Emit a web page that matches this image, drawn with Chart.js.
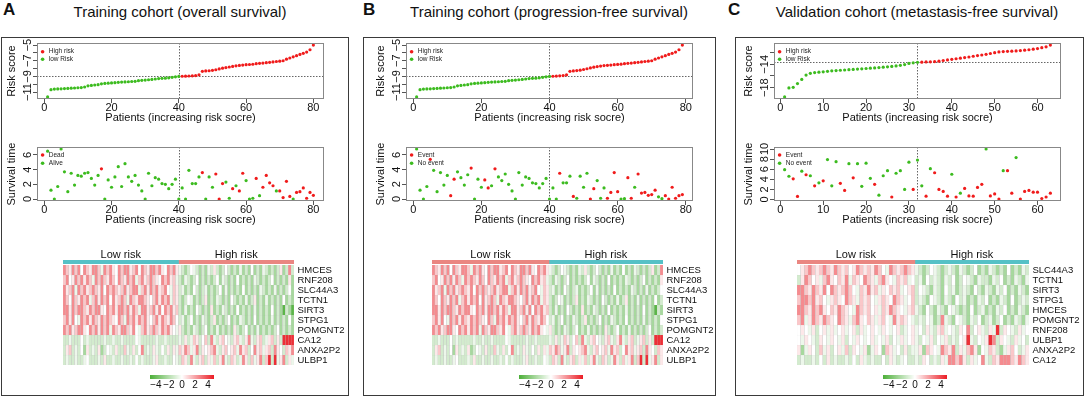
<!DOCTYPE html>
<html>
<head>
<meta charset="utf-8">
<script src="https://cdn.jsdelivr.net/npm/chart.js@4.4.1/dist/chart.umd.min.js"></script>
<style>
  body { margin: 0; width: 1085px; height: 397px; position: relative; overflow: hidden; background: #fff;
         font-family: "Liberation Sans", Arial, sans-serif; color: #111; }
  .frame { position: absolute; top: 37px; height: 359px; border: 1.5px solid #3a3a3a; box-sizing: border-box; }
  .tag { position: absolute; top: 0; font-size: 17px; font-weight: bold; }
  .title { position: absolute; top: 3px; width: 400px; text-align: center; font-size: 15px; }
  canvas { position: absolute; }
</style>
</head>
<body>
<div class="frame" style="left:1px;width:348px"></div>
<div class="frame" style="left:363px;width:353px"></div>
<div class="frame" style="left:735px;width:349px"></div>
<div class="tag" style="left:3px">A</div>
<div class="tag" style="left:363px">B</div>
<div class="tag" style="left:728px">C</div>
<div class="title" style="left:-20px">Training cohort (overall survival)</div>
<div class="title" style="left:349px">Training cohort (progression-free survival)</div>
<div class="title" style="left:717px">Validation cohort (metastasis-free survival)</div>
<script>
// risk score per patient, sorted (low-risk group first)
const riskA = [-11.62,-10.7,-10.62,-10.6,-10.58,-10.55,-10.53,-10.5,-10.48,-10.45,
  -10.42,-10.35,-10.2,-10.15,-10.1,-10.05,-9.95,-9.9,-9.87,-9.83,
  -9.8,-9.75,-9.72,-9.7,-9.68,-9.65,-9.63,-9.55,-9.5,-9.47,
  -9.43,-9.38,-9.33,-9.28,-9.25,-9.22,-9.18,-9.12,-9.05,-9.0,
  -8.98,-8.97,-8.95,-8.93,-8.9,-8.8,-8.35,-8.3,-8.28,-8.22,
  -8.15,-8.05,-7.95,-7.87,-7.8,-7.72,-7.65,-7.6,-7.55,-7.5,
  -7.48,-7.45,-7.38,-7.33,-7.3,-7.25,-7.2,-7.15,-7.1,-7.05,
  -7.0,-6.8,-6.65,-6.5,-6.35,-6.2,-6.05,-5.9,-5.6,-5.0];
const riskB = [-11.62,-10.7,-10.62,-10.6,-10.58,-10.55,-10.53,-10.5,-10.48,-10.45,
  -10.42,-10.35,-10.2,-10.15,-10.1,-10.05,-9.95,-9.9,-9.87,-9.83,
  -9.8,-9.75,-9.72,-9.7,-9.68,-9.65,-9.63,-9.55,-9.5,-9.47,
  -9.43,-9.38,-9.33,-9.28,-9.25,-9.22,-9.18,-9.12,-9.05,-9.0,
  -8.98,-8.96,-8.93,-8.9,-8.8,-8.35,-8.3,-8.25,-8.2,-8.12,
  -8.02,-7.92,-7.82,-7.75,-7.68,-7.62,-7.58,-7.55,-7.5,-7.47,
  -7.44,-7.38,-7.33,-7.3,-7.25,-7.2,-7.15,-7.1,-7.05,-7.0,
  -6.8,-6.65,-6.5,-6.35,-6.2,-6.05,-5.9,-5.6,-5.0];
const riskC = [-19.6,-18.05,-17.95,-17.3,-16.6,-15.85,-15.55,-15.42,-15.35,-15.3,
  -15.2,-15.12,-15.08,-15.02,-14.98,-14.92,-14.88,-14.82,-14.77,-14.72,
  -14.66,-14.62,-14.56,-14.5,-14.44,-14.36,-14.28,-14.18,-14.05,-13.85,
  -13.75,-13.66,-13.63,-13.6,-13.57,-13.53,-13.46,-13.35,-13.25,-13.15,
  -13.05,-12.95,-12.85,-12.75,-12.62,-12.5,-12.4,-12.28,-12.15,-12.0,
  -11.88,-11.82,-11.78,-11.74,-11.7,-11.65,-11.58,-11.5,-11.4,-11.3,
  -11.15,-11.0,-10.7];
const nLowA = 40, nLowB = 40, nLowC = 32;

// survival time and status (1 = dead / event)
const survA = [6.5,1.2,0,1.7,6.8,3.7,1.0,3.5,1.9,3.2, 3.1,3.5,3.6,2.8,1.9,3.2,4.1,0,2.6,1.6,
  3.0,4.4,1.7,4.8,3.0,2.4,3.2,1.9,1.1,0, 3.5,1.8,2.9,2.7,2.1,2.0,1.4,2.0,2.7,0,
  1.5,0,3.9,2.1,2.1,3.0,3.6,0,3.0,1.6, 3.4,0,2.1,2.3,0.1,1.4,1.8,1.1,3.5,2.5,
  0,0.1,2.8,0.45,1.6,3.2,2.2,1.8,1.1,1.1, 0.2,2.4,0.35,0,0.9,1.0,1.5,0.1,0.9,0.5];
const deadA = [0,0,0,0,0,0,0,0,0,0, 0,0,0,0,0,0,1,0,0,0, 0,0,0,0,0,0,0,0,0,0, 0,0,0,0,0,0,0,0,0,0,
  0,0,0,0,0,0,1,0,0,0, 1,1,1,0,0,1,0,1,1,0, 0,0,1,0,1,1,1,1,0,1, 1,1,1,0,1,1,1,1,1,1];
const survB = [6.8,1.2,0,1.7,5.4,3.9,1.0,3.6,1.9,3.2, 0.45,2.7,3.7,2.9,1.9,3.3,4.2,0,2.7,1.6,
  2.6,1.5,1.8,4.1,3.0,2.5,3.4,2.0,1.1,0, 3.6,1.9,3.0,2.8,2.2,2.1,1.5,2.1,2.8,0,
  1.5,0,3.5,2.2,2.2,3.1,0.35,0.1,3.1,1.6, 3.5,0,1.4,2.5,0.1,1.5,0.1,0.9,3.6,1.0,
  0,0.05,2.9,0.1,1.6,3.4,0.8,0.9,0.5,0.6, 1.2,0.3,0.05,0.45,0,1.6,0.1,0.45,0.6];
const eventB = [0,0,0,0,1,0,0,0,0,0, 1,1,0,0,0,0,1,0,0,0, 1,1,0,1,0,0,0,0,0,0, 0,0,0,0,0,0,0,0,0,0,
  0,0,1,0,0,0,1,0,0,0, 0,1,1,0,0,0,1,1,1,1, 0,0,1,1,0,1,1,1,1,1, 1,0,0,1,1,1,1,1,1];
const survC = [5.9,4.6,4.1,0.6,5.6,4.9,4.7,2.7,3.3,3.7, 7.9,2.7,7.5,3.2,1.8,7.1,4.3,7.1,2.6,7.2,
  4.2,3.0,0.85,4.7,5.7,0.5,5.2,5.7,2.0,7.4, 2.0,7.8,2.7,0.65,6.1,5.3,2.0,1.6,0.65,5.0,
  0.5,1.25,2.2,0.7,0.65,2.4,3.0,10.0,0.7,1.1, 0.1,5.7,5.7,1.25,8.3,0.1,1.6,1.8,1.45,1.45,
  0.2,0.5,1.25];
const eventC = [0,0,1,1,0,1,0,1,0,1, 0,0,0,1,1,0,1,0,0,0, 0,1,0,0,0,1,0,0,0,0, 1,0,0,1,0,1,1,1,1,0,
  1,0,1,1,1,1,1,0,1,1, 1,0,1,1,0,1,1,1,1,1, 1,1,1];

// heatmap: one letter per patient, Y G g h o s r R X  ->  -4.5 ... 4.5
const levels = { Y: -4.5, G: -2.4, g: -1.2, h: -0.5, o: 0, s: 0.5, r: 1.2, R: 2.5, X: 4.5 };
const genesA = ['HMCES','RNF208','SLC44A3','TCTN1','SIRT3','STPG1','POMGNT2','CA12','ANXA2P2','ULBP1'];
const heatA = [
  'RrsRrRoRrsRRrhRrRsoRrRRsrRoRrsRRrRsoRrRs' + 'hgGgohgGgGhgsgGgogGgGhGgGoGgGhgGgGgsGgRg',
  'rRosRrRsRrhRrRrsRroRrsRrRhrRsrRrsoRrRsrh' + 'gGhgGgoGgGgGgoGhgGgGoGgGgGhgGgGgoGgGgGsG',
  'RsrRhRrRsrRrsRoRrRrsrRsrRRhrRsRrRsrRohrs' + 'ghGgGogGghGgGgoGhGgGgGoGgGgGhgGgGhGgGgoG',
  'RroRrsRrRhrRsRrRoRsrRrhRrsRRrsorRsRrRhrs' + 'gGgohGgGgsGgGhgGgGogGgGhGgsGgGhGgGgGoGgG',
  'RRsRrRRrsRrRRsoRrRsRRrRsRrhRRsrRsRoRrRsr' + 'gGhGgGogGgGsGgGhgGgGoGgGgGhGgGgGoGgGYgGY',
  'rRsRohRrRsRrsRrRrsoRrhRrRsRrRsorRsRrsRro' + 'ghGgoGgGhgGgsGgGgoGgGhgGgGoGgGgGhGgGgGoG',
  'RrRsrRRsoRrRsRrRhRrsRRrsRohrRsrRrsRrRsoh' + 'sgGgGhgGgoGgGhGgGgGsgGgoGgGhGgGgGgoGgGgG',
  'gghgggoghggggghgghgghggggohggggghgghgggg' + 'hgsghrsgorgRhgsrohgsrhgsRhgsrghsrgsgXXXX',
  'gsrghgoGsghgsGgohgsggrhgsgoRghgshgogsgsh' + 'rsRrhsRgsosrRhgsrosrhRsrgoRsrhsrgRsogrsR',
  'ghgghgghoggghgsgghgghgghgoghggghsgghggoh' + 'grsgRhgsrgshrgsRhgrsghRsgrhsRgrXgXhsRgsh'
];
const heatB = heatA.map(row => row.slice(0, 79)); // same patients as A, one fewer
const genesC = ['SLC44A3','TCTN1','SIRT3','STPG1','HMCES','POMGNT2','RNF208','ULBP1','ANXA2P2','CA12'];
const heatC = [
  'osrRrsrRrsRrsrosRrsrsRrohRrsrRrs' + 'hgGgohgGghgGhgGgoGgGhgGgGoGgGhg',
  'gsRroshrRsorsRhrsoRrshrRsohrsrho' + 'ghGoghgGhgoGgohgGhggGhgoGgGhgGh',
  'RRrsRrsRoRrsrRrohrsRsrhsorsrhosr' + 'gohgGhgGoghGghgGogGhgGhgoGgGhgG',
  'rRRrRsrohsrsoRrshrsrohsrsoRrshor' + 'ghgGohgGhgGoghGgGhgoGgGhgGoGghg',
  'RRrsRrRsorsRrsohRrsroshrsRrsohsr' + 'hgGogGhgGohgGgGoGghGgGhgoGgGhgG',
  'rRhsRrsRrsoRrshrRsorshsrohRsrsoh' + 'ghgohGgRhgGohgGhgoGghGgoGgGhgGh',
  'osohsgoshshoshosgshosohsohosghos' + 'hogshgsrhohgsoRgoshgshXgsohgsho',
  'ohsohgsohsohsgohsohoshohsgohshos' + 'hgohsgohsghgosXhgohsXRgsohgshog',
  'sGhsogrhsgoshrgsohsGhsoGrshogsgh' + 'hsGrsohRrsRgshrRsGohrsgGhsroghs',
  'ghgghgogsghgghgogshghggogshghogg' + 'hgsoghgshRRrRsgshoRhgrsRRRrsRrs'
];

const xTicksAB = [0, 20, 40, 60, 80], xTicksC = [0, 10, 20, 30, 40, 50, 60];
const riskTicksAB = [-11, -10, -9, -8, -7, -6, -5], riskLabelsAB = [-11, -9, -7, -5];
const riskTicksC = [-18, -16, -14, -12], riskLabelsC = [-18, -14];
const survTicksAB = [0, 2, 4, 6], survTicksC = [0, 2, 4, 6, 8, 10];
const scaleTicks = [-4, -2, 0, 2, 4], scaleRange = [-4.9, 4.9];
const groupNames = ['Low risk', 'High risk'];

const FONT = '"Liberation Sans", Arial, sans-serif';
const RED = '#f01b1b', GREEN = '#3cbb1f', TEAL = '#55c1c6', SALMON = '#ea8681';
Chart.defaults.font.family = FONT;
Chart.defaults.color = '#111';

const minus = v => String(v).replace('-', '\u2212');

function heatColor(v) {
  const t = Math.max(-1, Math.min(1, v / scaleRange[1]));
  const end = t < 0 ? [76, 175, 56] : [235, 28, 36];
  const a = Math.abs(t);
  return 'rgb(' + end.map(c => Math.round(255 + (c - 255) * a)).join(',') + ')';
}

function canvasAt(left, top, w, h) {
  const c = document.createElement('canvas');
  c.width = Math.round(w); c.height = Math.round(h);
  c.style.left = Math.round(left) + 'px'; c.style.top = Math.round(top) + 'px';
  document.body.appendChild(c);
  return c;
}

// fixes an axis size and removes the label overhang padding
const fit = (w, h) => s => {
  if (w != null) s.width = w;
  if (h != null) s.height = h;
  s.paddingLeft = s.paddingRight = s.paddingTop = s.paddingBottom = 0;
};

const base = { responsive: false, animation: false, devicePixelRatio: 1, events: [] };

// R-style box, cut-off lines, rotated y labels and inset legend
const rPlot = {
  id: 'rPlot',
  beforeDatasetsDraw(chart, args, o) {
    const { ctx, chartArea: a, scales: { x, y } } = chart;
    ctx.save();
    ctx.strokeStyle = '#666'; ctx.lineWidth = 1; ctx.setLineDash([1.5, 1.5]);
    ctx.beginPath();
    if (o.vline != null) { const px = Math.round(x.getPixelForValue(o.vline)) + 0.5; ctx.moveTo(px, a.top); ctx.lineTo(px, a.bottom); }
    if (o.hline != null) { const py = Math.round(y.getPixelForValue(o.hline)) + 0.5; ctx.moveTo(a.left, py); ctx.lineTo(a.right, py); }
    ctx.stroke();
    ctx.restore();
  },
  afterDraw(chart, args, o) {
    const { ctx, chartArea: a, scales: { y } } = chart;
    ctx.save();
    ctx.strokeStyle = '#888'; ctx.lineWidth = 1;
    ctx.strokeRect(Math.round(a.left) + 0.5, Math.round(a.top) + 0.5, Math.round(a.width) - 1, Math.round(a.height) - 1);
    ctx.fillStyle = '#111'; ctx.font = '11px ' + FONT; ctx.textAlign = 'center'; ctx.textBaseline = 'middle';
    o.ylab.forEach(v => {
      ctx.save();
      ctx.translate(a.left - 9, y.getPixelForValue(v));
      ctx.rotate(-Math.PI / 2);
      ctx.fillText(minus(v), 0, 0);
      ctx.restore();
    });
    ctx.font = '6.5px ' + FONT; ctx.textAlign = 'left';
    chart.data.datasets.forEach((d, i) => {
      const cy = a.top + o.lg[0] + i * o.lg[1];
      ctx.fillStyle = d.backgroundColor;
      ctx.beginPath(); ctx.arc(a.left + 5.6, cy, 1.8, 0, Math.PI * 2); ctx.fill();
      ctx.fillStyle = '#222'; ctx.fillText(d.label, a.left + 11.8, cy);
    });
    ctx.restore();
  }
};

function scatterPanel(p) {
  const [L, T, R, B] = p.box;
  const cv = canvasAt(L - 37, T - 5, R - L + 49, B - T + 33);
  const n = p.y.length;
  const lo = Math.min(...p.y), hi = Math.max(...p.y), dy = (hi - lo) * 0.04, dx = (n - 1) * 0.04;
  const up = [], down = [];
  p.y.forEach((v, i) => (p.flag[i] ? up : down).push({ x: i + 1, y: v }));
  new Chart(cv, {
    type: 'scatter',
    data: { datasets: [
      { label: p.names[0], data: up, backgroundColor: RED },
      { label: p.names[1], data: down, backgroundColor: GREEN }
    ] },
    options: {
      ...base,
      layout: { padding: { left: 0, top: 5, right: 12, bottom: 0 } },
      elements: { point: { radius: 1.6, borderWidth: 0, hoverRadius: 1.6 } },
      plugins: { legend: { display: false }, tooltip: { enabled: false },
        rPlot: { vline: p.vline, hline: p.hline, ylab: p.ylab, lg: p.lg } },
      scales: {
        x: {
          type: 'linear', min: 1 - dx, max: n + dx,
          afterBuildTicks: s => { s.ticks = p.xt.map(v => ({ value: v })); },
          ticks: { font: { size: 11 }, color: '#111', padding: -1.8, maxRotation: 0, autoSkip: false },
          grid: { drawOnChartArea: false, tickLength: 4, color: '#555' },
          border: { display: false },
          title: { display: true, text: 'Patients (increasing risk socre)', font: { size: 11 }, color: '#111', padding: { top: 0, bottom: 2.5 } },
          afterFit: fit(null, 28)
        },
        y: {
          min: lo - dy, max: hi + dy,
          afterBuildTicks: s => { s.ticks = p.yt.map(v => ({ value: v })); },
          ticks: { display: false },
          grid: { drawOnChartArea: false, tickLength: 4, color: '#555' },
          border: { display: false },
          title: { display: true, text: p.ytitle, font: { size: 11 }, color: '#111', padding: { top: 5.6, bottom: 0 } },
          afterFit: fit(37, null)
        }
      }
    },
    plugins: [rPlot]
  });
}

function heatPanel(p) {
  const n = p.rows[0].length, w = p.right - p.left;
  const cols = Array.from({ length: n }, (_, i) => i + 1);

  // group annotation strip
  new Chart(canvasAt(p.left, 245, w, 19), {
    type: 'bar',
    data: { labels: [''], datasets: [
      { data: [p.nLow], backgroundColor: p.lowColor },
      { data: [n - p.nLow], backgroundColor: p.highColor }
    ] },
    options: {
      ...base, indexAxis: 'y',
      datasets: { bar: { barPercentage: 1, categoryPercentage: 1 } },
      plugins: { legend: { display: false }, tooltip: { enabled: false } },
      scales: {
        x: {
          stacked: true, min: 0, max: n, position: 'top',
          afterBuildTicks: s => { s.ticks = [{ value: p.nLow / 2 }, { value: (n + p.nLow) / 2 }]; },
          ticks: { callback: (v, i) => groupNames[i], font: { size: 11 }, color: '#111', padding: -2, maxRotation: 0, autoSkip: false },
          grid: { display: false, drawTicks: false }, border: { display: false },
          afterFit: fit(null, 15)
        },
        y: { stacked: true, display: false }
      }
    }
  });

  // expression cells
  new Chart(canvasAt(p.left, 265, w + 75, 100), {
    type: 'bar',
    data: { labels: cols, datasets: p.rows.map((row, k) => ({
      label: p.genes[k],
      data: row.split('').map(() => [k, k + 1]),
      backgroundColor: row.split('').map(ch => heatColor(levels[ch])),
      borderColor: 'rgba(175,175,175,0.6)', borderWidth: 0.4, borderSkipped: false,
      barPercentage: 1, categoryPercentage: 1, grouped: false
    })) },
    options: {
      ...base,
      layout: { padding: { left: 0, top: 0, right: 5, bottom: 0 } },
      plugins: { legend: { display: false }, tooltip: { enabled: false } },
      scales: {
        x: { display: false },
        y: { display: false, min: 0, max: p.genes.length, reverse: true },
        g: {
          type: 'category', labels: p.genes, position: 'right', offset: true,
          grid: { display: false, drawTicks: false }, border: { display: false },
          ticks: { font: { size: 9.5 }, color: '#111', padding: 3.5, autoSkip: false },
          afterFit: fit(70, null)
        }
      }
    }
  });

  // colour key
  new Chart(canvasAt(p.bar[0], 375, p.bar[1] - p.bar[0], 18), {
    type: 'bar',
    data: { labels: [''], datasets: [{
      data: [scaleRange],
      backgroundColor: c => {
        const a = c.chart.chartArea;
        if (!a) return '#fff';
        const g = c.chart.ctx.createLinearGradient(a.left, 0, a.right, 0);
        g.addColorStop(0, heatColor(scaleRange[0])); g.addColorStop(0.5, '#fff'); g.addColorStop(1, heatColor(scaleRange[1]));
        return g;
      },
      barPercentage: 1, categoryPercentage: 1
    }] },
    options: {
      ...base, indexAxis: 'y',
      plugins: { legend: { display: false }, tooltip: { enabled: false } },
      scales: {
        x: {
          min: scaleRange[0], max: scaleRange[1],
          afterBuildTicks: s => { s.ticks = scaleTicks.map(v => ({ value: v })); },
          ticks: { callback: v => minus(v), font: { size: 10 }, color: '#111', padding: 0, maxRotation: 0, autoSkip: false },
          grid: { display: false, drawTicks: false }, border: { display: false },
          afterFit: fit(null, 14)
        },
        y: { display: false }
      }
    }
  });
}

const lowFlags = (vals, cut) => vals.map((v, i) => (i >= cut ? 1 : 0));

// Panel A
scatterPanel({ box: [37, 43, 324, 99], y: riskA, flag: lowFlags(riskA, nLowA), names: ['High risk', 'low Risk'],
  xt: xTicksAB, yt: riskTicksAB, ylab: riskLabelsAB, ytitle: 'Risk score', vline: nLowA, hline: riskA[nLowA - 1], lg: [8.7, 7.6] });
scatterPanel({ box: [37, 147, 324, 201], y: survA, flag: deadA, names: ['Dead', 'Alive'],
  xt: xTicksAB, yt: survTicksAB, ylab: survTicksAB, ytitle: 'Survival time', vline: nLowA, hline: null, lg: [8, 8.3] });
heatPanel({ left: 63, right: 294, rows: heatA, genes: genesA, nLow: nLowA, lowColor: TEAL, highColor: SALMON, bar: [150, 214] });

// Panel B
scatterPanel({ box: [406, 43, 693, 99], y: riskB, flag: lowFlags(riskB, nLowB), names: ['High risk', 'low Risk'],
  xt: xTicksAB, yt: riskTicksAB, ylab: riskLabelsAB, ytitle: 'Risk score', vline: nLowB, hline: riskB[nLowB - 1], lg: [8.7, 7.6] });
scatterPanel({ box: [406, 147, 693, 201], y: survB, flag: eventB, names: ['Event', 'No event'],
  xt: xTicksAB, yt: survTicksAB, ylab: survTicksAB, ytitle: 'Survival time', vline: nLowB, hline: null, lg: [8, 8.3] });
heatPanel({ left: 432, right: 663, rows: heatB, genes: genesA, nLow: nLowB, lowColor: SALMON, highColor: TEAL, bar: [519, 583] });

// Panel C
scatterPanel({ box: [774, 43, 1061, 99], y: riskC, flag: lowFlags(riskC, nLowC), names: ['High risk', 'low Risk'],
  xt: xTicksC, yt: riskTicksC, ylab: riskLabelsC, ytitle: 'Risk score', vline: nLowC, hline: riskC[nLowC - 1], lg: [8.7, 7.6] });
scatterPanel({ box: [774, 147, 1061, 201], y: survC, flag: eventC, names: ['Event', 'No event'],
  xt: xTicksC, yt: survTicksC, ylab: survTicksC, ytitle: 'Survival time', vline: nLowC, hline: null, lg: [8, 8.3] });
heatPanel({ left: 797, right: 1029, rows: heatC, genes: genesC, nLow: nLowC, lowColor: SALMON, highColor: TEAL, bar: [883, 947] });
</script>
</body>
</html>
